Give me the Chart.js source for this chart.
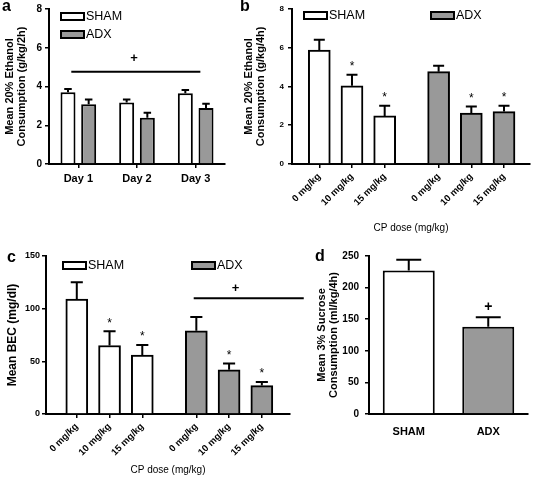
<!DOCTYPE html>
<html><head><meta charset="utf-8">
<script src="https://cdn.jsdelivr.net/npm/chart.js@4.4.0/dist/chart.umd.min.js"></script>
<style>
html,body{margin:0;padding:0;background:#fff;}
#wrap{position:relative;width:533px;height:479px;overflow:hidden;background:#fff;}
canvas{position:absolute;}
.lab{position:absolute;font:bold 16px Arial,"Liberation Sans",sans-serif;line-height:16px;color:#000;}
</style></head><body>
<div id="wrap">
<canvas id="ca" style="left:0;top:0" width="240" height="240"></canvas>
<canvas id="cb" style="left:240px;top:0" width="293" height="240"></canvas>
<canvas id="cc" style="left:0;top:240px" width="310" height="239"></canvas>
<canvas id="cd" style="left:300px;top:240px" width="233" height="239"></canvas>
<div class="lab" style="left:2px;top:-2px">a</div>
<div class="lab" style="left:240px;top:-2px">b</div>
<div class="lab" style="left:7px;top:249px">c</div>
<div class="lab" style="left:315px;top:248px">d</div>
</div>
<script>
// ---------- data ----------
// Panel a
const dayLabels = ['Day 1', 'Day 2', 'Day 3'];
const aSham = [3.70, 3.18, 3.65];
const aShamSem = [0.17, 0.15, 0.17];
const aAdx = [3.08, 2.39, 2.89];
const aAdxSem = [0.25, 0.25, 0.22];
const aTicks = [0, 2, 4, 6, 8];
const aSigLevel = 4.76;

// Panel b
const doseLabels = ['0 mg/kg', '10 mg/kg', '15 mg/kg'];
const bSham = [5.87, 4.03, 2.48];
const bShamSem = [0.53, 0.57, 0.52];
const bAdx = [4.76, 2.62, 2.70];
const bAdxSem = [0.30, 0.34, 0.30];
const bShamStar = [false, true, true];
const bAdxStar = [false, true, true];
const bTicks = [0, 2, 4, 6, 8];

// Panel c
const cSham = [109, 65, 56];
const cShamSem = [16, 13.5, 9.5];
const cAdx = [79, 42, 27];
const cAdxSem = [13, 6, 3.3];
const cShamStar = [false, true, true];
const cAdxStar = [false, true, true];
const cTicks = [0, 50, 100, 150];
const cSigLevel = 110;

// Panel d
const dLabels = ['SHAM', 'ADX'];
const dVals = [227, 138];
const dSem = [17, 15];
const dMarks = ['', '+'];
const dTicks = [0, 50, 100, 150, 200, 250];

// ---------- layout / style ----------
const FONT = 'Arial, "Liberation Sans", sans-serif';
const GRAY = '#999999';
const slotX = [0, 1, 2, 3.65, 4.65, 5.65]; // bar slots on the dose axis (gap between groups)

const annot = {
  id: 'annot',
  afterDatasetsDraw(chart, args, o) {
    const ctx = chart.ctx, ys = chart.scales.y, xs = chart.scales.x;
    ctx.save();
    ctx.strokeStyle = '#000'; ctx.fillStyle = '#000'; ctx.lineWidth = 2;
    chart.data.datasets.forEach((ds, di) => {
      const meta = chart.getDatasetMeta(di);
      meta.data.forEach((bar, i) => {
        const raw = ds.data[i];
        const val = (typeof raw === 'object') ? raw.y : raw;
        const top = ys.getPixelForValue(val + ds.sem[i]);
        const half = bar.width * o.capFrac / 2;
        ctx.beginPath();
        ctx.moveTo(bar.x, bar.y); ctx.lineTo(bar.x, top);
        ctx.moveTo(bar.x - half, top); ctx.lineTo(bar.x + half, top);
        ctx.stroke();
        if (ds.marks && ds.marks[i]) {
          ctx.font = o.markFont; ctx.textAlign = 'center'; ctx.textBaseline = 'middle';
          ctx.fillText(ds.marks[i], bar.x, top - o.markDy);
        }
      });
    });
    (o.lines || []).forEach(l => {
      const y = ys.getPixelForValue(l.y);
      ctx.beginPath(); ctx.moveTo(xs.getPixelForValue(l.x0), y); ctx.lineTo(xs.getPixelForValue(l.x1), y); ctx.stroke();
      ctx.font = 'bold 13px ' + FONT; ctx.textAlign = 'center'; ctx.textBaseline = 'middle';
      ctx.fillText(l.text, xs.getPixelForValue(l.tx), y - l.dy);
    });
    (o.legend || []).forEach(it => {
      ctx.fillStyle = it.fill; ctx.fillRect(it.x, it.y, it.w, it.h);
      ctx.lineWidth = 2; ctx.strokeStyle = '#000'; ctx.strokeRect(it.x + 1, it.y + 1, it.w - 2, it.h - 2);
      ctx.fillStyle = '#000'; ctx.font = '12.5px ' + FONT; ctx.textAlign = 'left'; ctx.textBaseline = 'middle';
      ctx.fillText(it.text, it.x + it.w + 1, it.y + it.h / 2 + 0.5);
    });
    ctx.restore();
  }
};

function yAxis(o) {
  return {
    min: o.ticks[0], max: o.ticks[o.ticks.length - 1],
    afterFit(s) { s.width = o.width; },
    afterBuildTicks(s) { s.ticks = o.ticks.map(v => ({ value: v })); },
    border: { display: true, color: '#000', width: 2 },
    grid: { drawOnChartArea: false, drawTicks: true, tickLength: 4, color: '#000', lineWidth: 1.5 },
    ticks: { color: '#000', font: { family: FONT, size: o.tickSize, weight: 'bold' }, padding: o.tickPad },
    title: { display: true, text: o.title, color: '#000',
      font: { family: FONT, size: o.titleSize, weight: 'bold', lineHeight: 1.1 },
      padding: { top: o.titlePad, bottom: 0 } }
  };
}
function xCat(o) {
  return {
    type: 'category', offset: true,
    afterFit(s) { s.height = o.height; },
    border: { display: true, color: '#000', width: 2 },
    grid: { offset: false, drawOnChartArea: false, drawTicks: true, tickLength: 4,
      color: o.noTicks ? 'rgba(0,0,0,0)' : '#000', lineWidth: 1.5 },
    ticks: { color: '#000', font: { family: FONT, size: o.size, weight: 'bold' }, padding: o.pad,
      maxRotation: 0, autoSkip: false }
  };
}
function xLin(o) {
  return {
    type: 'linear', min: o.min, max: o.max, offset: false,
    afterFit(s) { s.height = o.height; },
    afterBuildTicks(s) { s.ticks = slotX.map(v => ({ value: v })); },
    border: { display: true, color: '#000', width: 2 },
    grid: { offset: false, drawOnChartArea: false, drawTicks: true, tickLength: 4, color: '#000', lineWidth: 1.5 },
    ticks: { autoSkip: false, minRotation: 45, maxRotation: 45, color: '#000',
      font: { family: FONT, size: 9.5, weight: 'bold' }, padding: 3,
      callback: (v, i) => doseLabels.concat(doseLabels)[i] },
    title: { display: true, text: 'CP dose (mg/kg)', color: '#000', font: { family: FONT, size: 10 },
      padding: { top: 0, bottom: o.titlePad } }
  };
}
const common = { responsive: false, animation: false, events: [] };
const noLegend = { legend: { display: false }, tooltip: { enabled: false } };

// ---------- panel a ----------
new Chart(document.getElementById('ca'), {
  type: 'bar',
  data: { labels: dayLabels, datasets: [
    { label: 'SHAM', data: aSham, sem: aShamSem, backgroundColor: '#fff', borderColor: '#000', borderWidth: 2, categoryPercentage: 0.705, barPercentage: 0.725 },
    { label: 'ADX', data: aAdx, sem: aAdxSem, backgroundColor: GRAY, borderColor: '#000', borderWidth: 2, categoryPercentage: 0.705, barPercentage: 0.725 }
  ] },
  options: Object.assign({}, common, {
    layout: { padding: { left: 0, top: 6, right: 15, bottom: 0 } },
    scales: {
      x: xCat({ height: 76, size: 11, pad: 4 }),
      y: yAxis({ ticks: aTicks, width: 49, tickSize: 10, tickPad: 3,
        title: ['Mean 20% Ethanol', 'Consumption (g/kg/2h)'], titleSize: 11, titlePad: 4 })
    },
    plugins: Object.assign({}, noLegend, { annot: {
      capFrac: 0.5, markFont: '12px ' + FONT, markDy: 8,
      lines: [{ x0: -0.12, x1: 2.08, y: aSigLevel, text: '+', tx: 0.95, dy: 13 }],
      legend: [
        { x: 60, y: 12, w: 25, h: 9, fill: '#fff', text: 'SHAM' },
        { x: 60, y: 30, w: 25, h: 9, fill: GRAY, text: 'ADX' }
      ] } })
  }),
  plugins: [annot]
});

// ---------- panel b ----------
new Chart(document.getElementById('cb'), {
  type: 'bar',
  data: { datasets: [
    { label: 'SHAM', data: bSham.map((v, i) => ({ x: slotX[i], y: v })), sem: bShamSem, marks: bShamStar.map(s => s ? '*' : ''),
      backgroundColor: '#fff', borderColor: '#000', borderWidth: 2, barThickness: 22, grouped: false },
    { label: 'ADX', data: bAdx.map((v, i) => ({ x: slotX[i + 3], y: v })), sem: bAdxSem, marks: bAdxStar.map(s => s ? '*' : ''),
      backgroundColor: GRAY, borderColor: '#000', borderWidth: 2, barThickness: 22, grouped: false }
  ] },
  options: Object.assign({}, common, {
    layout: { padding: { left: 0, top: 7, right: 3, bottom: 0 } },
    scales: {
      x: xLin({ min: -0.835, max: 6.445, height: 76, titlePad: 6 }),
      y: yAxis({ ticks: bTicks, width: 52, tickSize: 8, tickPad: 4,
        title: ['Mean 20% Ethanol', 'Consumption (g/kg/4h)'], titleSize: 11, titlePad: 3 })
    },
    plugins: Object.assign({}, noLegend, { annot: {
      capFrac: 0.5, markFont: '12px ' + FONT, markDy: 8,
      legend: [
        { x: 63, y: 11, w: 25, h: 9, fill: '#fff', text: 'SHAM' },
        { x: 190, y: 11, w: 25, h: 9, fill: GRAY, text: 'ADX' }
      ] } })
  }),
  plugins: [annot]
});

// ---------- panel c ----------
new Chart(document.getElementById('cc'), {
  type: 'bar',
  data: { datasets: [
    { label: 'SHAM', data: cSham.map((v, i) => ({ x: slotX[i], y: v })), sem: cShamSem, marks: cShamStar.map(s => s ? '*' : ''),
      backgroundColor: '#fff', borderColor: '#000', borderWidth: 2, barThickness: 22, grouped: false },
    { label: 'ADX', data: cAdx.map((v, i) => ({ x: slotX[i + 3], y: v })), sem: cAdxSem, marks: cAdxStar.map(s => s ? '*' : ''),
      backgroundColor: GRAY, borderColor: '#000', borderWidth: 2, barThickness: 22, grouped: false }
  ] },
  options: Object.assign({}, common, {
    layout: { padding: { left: 0, top: 16, right: 20, bottom: 0 } },
    scales: {
      x: xLin({ min: -0.94, max: 6.51, height: 65, titlePad: 3 }),
      y: yAxis({ ticks: cTicks, width: 46, tickSize: 9, tickPad: 2,
        title: 'Mean BEC (mg/dl)', titleSize: 12, titlePad: 6 })
    },
    plugins: Object.assign({}, noLegend, { annot: {
      capFrac: 0.55, markFont: '12px ' + FONT, markDy: 8,
      lines: [{ x0: 3.57, x1: 6.93, y: cSigLevel, text: '+', tx: 4.85, dy: 10 }],
      legend: [
        { x: 62, y: 21, w: 25, h: 9, fill: '#fff', text: 'SHAM' },
        { x: 191, y: 21, w: 25, h: 9, fill: GRAY, text: 'ADX' }
      ] } })
  }),
  plugins: [annot]
});

// ---------- panel d ----------
new Chart(document.getElementById('cd'), {
  type: 'bar',
  data: { labels: dLabels, datasets: [
    { label: 'Sucrose', data: dVals, sem: dSem, marks: dMarks,
      backgroundColor: ['#fff', GRAY], borderColor: '#000', borderWidth: 2, categoryPercentage: 1, barPercentage: 0.654 }
  ] },
  options: Object.assign({}, common, {
    layout: { padding: { left: 0, top: 16, right: 5, bottom: 0 } },
    scales: {
      x: xCat({ height: 65, size: 11, pad: 7, noTicks: true }),
      y: yAxis({ ticks: dTicks, width: 69, tickSize: 10, tickPad: 6,
        title: ['Mean 3% Sucrose', 'Consumption (ml/kg/4h)'], titleSize: 11, titlePad: 16 })
    },
    plugins: Object.assign({}, noLegend, { annot: {
      capFrac: 0.48, markFont: 'bold 14px ' + FONT, markDy: 10 } })
  }),
  plugins: [annot]
});
</script>
</body></html>
